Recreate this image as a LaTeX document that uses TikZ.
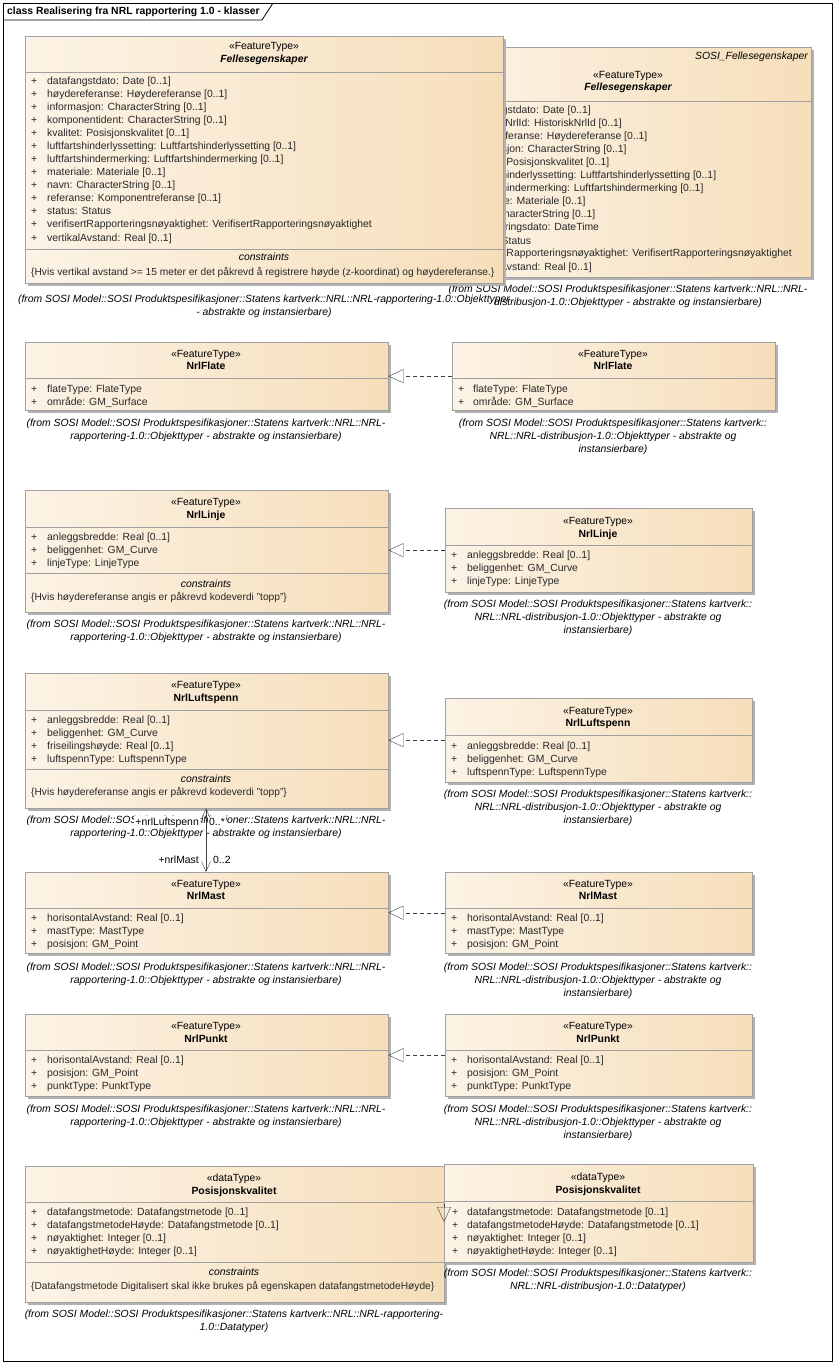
\documentclass[tikz,border=0pt]{standalone}
\usepackage{fontspec}
\setmainfont{Liberation Sans}
\usetikzlibrary{arrows.meta,shadows}
\definecolor{boxlight}{RGB}{252,243,230}
\definecolor{boxdark}{RGB}{246,222,186}
\definecolor{boxline}{RGB}{160,160,160}
\definecolor{shadowgray}{RGB}{178,178,178}
\definecolor{linecol}{RGB}{64,64,64}
\definecolor{attrcol}{RGB}{40,40,40}
\newcommand\umlfont{\fontsize{10.4}{13}\selectfont}
\tikzset{
  cbox/.style={draw=boxline, left color=boxlight, right color=boxdark, anchor=north west, inner sep=0,
    general shadow={fill=shadowgray, shadow xshift=3pt, shadow yshift=-3pt}},
  sepl/.style={draw=boxline},
  stereo/.style={font=\umlfont, inner sep=0, text height=8pt, text depth=2pt},
  cname/.style={font=\umlfont\bfseries, inner sep=0, text height=8pt, text depth=2pt},
  attr/.style={font=\umlfont, anchor=west, inner sep=0, text=attrcol, text height=8pt, text depth=2pt},
  constr/.style={attr, font=\fontsize{10.2}{13}\selectfont},
  pkg/.style={font=\umlfont\itshape, inner sep=0, align=center},
  role/.style={stereo, fill=white, inner sep=1pt},
  title/.style={font=\umlfont\bfseries, anchor=west, inner sep=0},
  realize/.style={draw=linecol, dash pattern=on 4pt off 3pt, -{Triangle[open, length=15pt, width=14pt]}},
  assoc/.style={draw=linecol, {Straight Barb[length=10pt, width=9pt]}-{Straight Barb[length=10pt, width=9pt]}},
}
\begin{document}
\begin{tikzpicture}[x=1pt,y=-1pt]
\useasboundingbox (0,0) rectangle (836,1364);
% frame
\draw[line width=0.8pt] (3,3) rectangle (832,1361);
\draw[line width=0.8pt] (3,20) -- (262,20) -- (273,3);
\node[title] (frametitle) at (7,11.5) {class Realisering fra NRL rapportering 1.0 - klasser};

% Fellesegenskaper, distribusjon (behind)
\node[cbox, minimum width=366pt, minimum height=230pt] (fellesR) at (445,47) {};
\draw[sepl] (445,101) -- (811,101);
\node[pkg, anchor=east] (fellesRpkg) at (808,57) {SOSI\_Fellesegenskaper};
\node[stereo] (fellesRst) at (628,76) {«FeatureType»};
\node[cname, font=\umlfont\bfseries\itshape] (fellesRnm) at (628,88) {Fellesegenskaper};
\foreach \a [count=\i from 0] in {datafangstdato: Date [0..1], historiskNrlId: HistoriskNrlId [0..1],
    høydereferanse: Høydereferanse [0..1], informasjon: CharacterString [0..1],
    kvalitet: Posisjonskvalitet [0..1], luftfartshinderlyssetting: Luftfartshinderlyssetting [0..1],
    luftfartshindermerking: Luftfartshindermerking [0..1], materiale: Materiale [0..1],
    navn: CharacterString [0..1], oppdateringsdato: DateTime, status: Status,
    verifisertRapporteringsnøyaktighet: VerifisertRapporteringsnøyaktighet, vertikalAvstand: Real [0..1]}{
  \node[attr] (fellesRp\i) at (451,111+13*\i) {+};
  \node[attr] (fellesRa\i) at (467,111+13*\i) {\a};
}
\node[pkg] (fellesRfrom) at (628,296) {(from SOSI Model::SOSI Produktspesifikasjoner::Statens kartverk::NRL::NRL-\\distribusjon-1.0::Objekttyper - abstrakte og instansierbare)};

% Fellesegenskaper, rapportering
\node[cbox, minimum width=478pt, minimum height=247pt] (fellesL) at (25,36) {};
\draw[sepl] (25,72) -- (503,72);
\draw[sepl] (25,249) -- (503,249);
\node[stereo] (fellesLst) at (264,47) {«FeatureType»};
\node[cname, font=\umlfont\bfseries\itshape] (fellesLnm) at (264,60) {Fellesegenskaper};
\foreach \a [count=\i from 0] in {datafangstdato: Date [0..1], høydereferanse: Høydereferanse [0..1],
    informasjon: CharacterString [0..1], komponentident: CharacterString [0..1],
    kvalitet: Posisjonskvalitet [0..1], luftfartshinderlyssetting: Luftfartshinderlyssetting [0..1],
    luftfartshindermerking: Luftfartshindermerking [0..1], materiale: Materiale [0..1],
    navn: CharacterString [0..1], referanse: Komponentreferanse [0..1], status: Status,
    verifisertRapporteringsnøyaktighet: VerifisertRapporteringsnøyaktighet, vertikalAvstand: Real [0..1]}{
  \node[attr] (fellesLp\i) at (31,82+13*\i) {+};
  \node[attr] (fellesLa\i) at (47,82+13*\i) {\a};
}
\node[stereo, font=\umlfont\itshape] (fellesLcon) at (264,258) {constraints};
\node[constr] (fellesLct) at (31,272) {\{Hvis vertikal avstand >= 15 meter er det påkrevd å registrere høyde (z-koordinat) og høydereferanse.\}};
\node[pkg] (fellesLfrom) at (264,306.5) {(from SOSI Model::SOSI Produktspesifikasjoner::Statens kartverk::NRL::NRL-rapportering-1.0::Objekttyper\\- abstrakte og instansierbare)};

% NrlFlate
\node[cbox, minimum width=363pt, minimum height=68pt] (flateL) at (25,342) {};
\draw[sepl] (25,378) -- (388,378);
\node[stereo] (flateLst) at (206,354) {«FeatureType»};
\node[cname] (flateLnm) at (206,366) {NrlFlate};
\foreach \a [count=\i from 0] in {flateType: FlateType, område: GM\_Surface}{
  \node[attr] (flateLp\i) at (31,389+13*\i) {+};
  \node[attr] (flateLa\i) at (47,389+13*\i) {\a};
}
\node[pkg] (flateLfrom) at (206,430.5) {(from SOSI Model::SOSI Produktspesifikasjoner::Statens kartverk::NRL::NRL-\\rapportering-1.0::Objekttyper - abstrakte og instansierbare)};

\node[cbox, minimum width=323pt, minimum height=68pt] (flateR) at (452,342) {};
\draw[sepl] (452,378) -- (775,378);
\node[stereo] (flateRst) at (613,354) {«FeatureType»};
\node[cname] (flateRnm) at (613,366) {NrlFlate};
\foreach \a [count=\i from 0] in {flateType: FlateType, område: GM\_Surface}{
  \node[attr] (flateRp\i) at (458,389+13*\i) {+};
  \node[attr] (flateRa\i) at (473,389+13*\i) {\a};
}
\node[pkg] (flateRfrom) at (613,437) {(from SOSI Model::SOSI Produktspesifikasjoner::Statens kartverk::\\NRL::NRL-distribusjon-1.0::Objekttyper - abstrakte og\\instansierbare)};
\draw[realize] (flateR.west) -- (flateR.west -| flateL.east);

% NrlLinje
\node[cbox, minimum width=363pt, minimum height=122pt] (linjeL) at (25,490) {};
\draw[sepl] (25,527) -- (388,527);
\draw[sepl] (25,573) -- (388,573);
\node[stereo] (linjeLst) at (206,502) {«FeatureType»};
\node[cname] (linjeLnm) at (206,515) {NrlLinje};
\foreach \a [count=\i from 0] in {anleggsbredde: Real [0..1], beliggenhet: GM\_Curve, linjeType: LinjeType}{
  \node[attr] (linjeLp\i) at (31,537+13*\i) {+};
  \node[attr] (linjeLa\i) at (47,537+13*\i) {\a};
}
\node[stereo, font=\umlfont\itshape] (linjeLcon) at (206,584) {constraints};
\node[constr] (linjeLct) at (31,597) {\{Hvis høydereferanse angis er påkrevd kodeverdi "topp"\}};
\node[pkg] (linjeLfrom) at (206,631) {(from SOSI Model::SOSI Produktspesifikasjoner::Statens kartverk::NRL::NRL-\\rapportering-1.0::Objekttyper - abstrakte og instansierbare)};

\node[cbox, minimum width=307pt, minimum height=84pt] (linjeR) at (445,508) {};
\draw[sepl] (445,545) -- (752,545);
\node[stereo] (linjeRst) at (598,521) {«FeatureType»};
\node[cname] (linjeRnm) at (598,534) {NrlLinje};
\foreach \a [count=\i from 0] in {anleggsbredde: Real [0..1], beliggenhet: GM\_Curve, linjeType: LinjeType}{
  \node[attr] (linjeRp\i) at (451,555+13*\i) {+};
  \node[attr] (linjeRa\i) at (467,555+13*\i) {\a};
}
\node[pkg] (linjeRfrom) at (598,618) {(from SOSI Model::SOSI Produktspesifikasjoner::Statens kartverk::\\NRL::NRL-distribusjon-1.0::Objekttyper - abstrakte og\\instansierbare)};
\draw[realize] (linjeR.west) -- (linjeR.west -| linjeL.east);

% NrlLuftspenn
\node[cbox, minimum width=363pt, minimum height=135pt] (luftL) at (25,673) {};
\draw[sepl] (25,710) -- (388,710);
\draw[sepl] (25,769) -- (388,769);
\node[stereo] (luftLst) at (206,685) {«FeatureType»};
\node[cname] (luftLnm) at (206,698) {NrlLuftspenn};
\foreach \a [count=\i from 0] in {anleggsbredde: Real [0..1], beliggenhet: GM\_Curve,
    friseilingshøyde: Real [0..1], luftspennType: LuftspennType}{
  \node[attr] (luftLp\i) at (31,720+13*\i) {+};
  \node[attr] (luftLa\i) at (47,720+13*\i) {\a};
}
\node[stereo, font=\umlfont\itshape] (luftLcon) at (206,779) {constraints};
\node[constr] (luftLct) at (31,792) {\{Hvis høydereferanse angis er påkrevd kodeverdi "topp"\}};
\node[pkg] (luftLfrom) at (206,827.5) {(from SOSI Model::SOSI Produktspesifikasjoner::Statens kartverk::NRL::NRL-\\rapportering-1.0::Objekttyper - abstrakte og instansierbare)};

\node[cbox, minimum width=307pt, minimum height=84pt] (luftR) at (445,698) {};
\draw[sepl] (445,735) -- (752,735);
\node[stereo] (luftRst) at (598,711) {«FeatureType»};
\node[cname] (luftRnm) at (598,723) {NrlLuftspenn};
\foreach \a [count=\i from 0] in {anleggsbredde: Real [0..1], beliggenhet: GM\_Curve, luftspennType: LuftspennType}{
  \node[attr] (luftRp\i) at (451,746+13*\i) {+};
  \node[attr] (luftRa\i) at (467,746+13*\i) {\a};
}
\node[pkg] (luftRfrom) at (598,808) {(from SOSI Model::SOSI Produktspesifikasjoner::Statens kartverk::\\NRL::NRL-distribusjon-1.0::Objekttyper - abstrakte og\\instansierbare)};
\draw[realize] (luftR.west) -- (luftR.west -| luftL.east);

% NrlMast
\node[cbox, minimum width=363pt, minimum height=81pt] (mastL) at (25,872) {};
\draw[sepl] (25,908) -- (388,908);
\node[stereo] (mastLst) at (206,884) {«FeatureType»};
\node[cname] (mastLnm) at (206,896) {NrlMast};
\foreach \a [count=\i from 0] in {horisontalAvstand: Real [0..1], mastType: MastType, posisjon: GM\_Point}{
  \node[attr] (mastLp\i) at (31,918+13*\i) {+};
  \node[attr] (mastLa\i) at (47,918+13*\i) {\a};
}
\node[pkg] (mastLfrom) at (206,974.5) {(from SOSI Model::SOSI Produktspesifikasjoner::Statens kartverk::NRL::NRL-\\rapportering-1.0::Objekttyper - abstrakte og instansierbare)};

\node[cbox, minimum width=307pt, minimum height=81pt] (mastR) at (445,872) {};
\draw[sepl] (445,908) -- (752,908);
\node[stereo] (mastRst) at (598,884) {«FeatureType»};
\node[cname] (mastRnm) at (598,896) {NrlMast};
\foreach \a [count=\i from 0] in {horisontalAvstand: Real [0..1], mastType: MastType, posisjon: GM\_Point}{
  \node[attr] (mastRp\i) at (451,918+13*\i) {+};
  \node[attr] (mastRa\i) at (467,918+13*\i) {\a};
}
\node[pkg] (mastRfrom) at (598,981) {(from SOSI Model::SOSI Produktspesifikasjoner::Statens kartverk::\\NRL::NRL-distribusjon-1.0::Objekttyper - abstrakte og\\instansierbare)};
\draw[realize] (mastR.west) -- (mastR.west -| mastL.east);

% association luftspenn - mast
\coordinate (assocx) at (206,0);
\node[role, anchor=east] (luftRole) at (200,822) {+nrlLuftspenn};
\node[role, anchor=west] (luftMult) at (208,822) {0..*};
\node[role, anchor=east] (mastRole) at (200,860) {+nrlMast};
\node[role, anchor=west] (mastMult) at (212,860) {0..2};
\draw[assoc] (luftL.south -| assocx) -- (mastL.north -| assocx);

% NrlPunkt
\node[cbox, minimum width=363pt, minimum height=82pt] (punktL) at (25,1014) {};
\draw[sepl] (25,1050) -- (388,1050);
\node[stereo] (punktLst) at (206,1026) {«FeatureType»};
\node[cname] (punktLnm) at (206,1039) {NrlPunkt};
\foreach \a [count=\i from 0] in {horisontalAvstand: Real [0..1], posisjon: GM\_Point, punktType: PunktType}{
  \node[attr] (punktLp\i) at (31,1060+13*\i) {+};
  \node[attr] (punktLa\i) at (47,1060+13*\i) {\a};
}
\node[pkg] (punktLfrom) at (206,1116.5) {(from SOSI Model::SOSI Produktspesifikasjoner::Statens kartverk::NRL::NRL-\\rapportering-1.0::Objekttyper - abstrakte og instansierbare)};

\node[cbox, minimum width=307pt, minimum height=82pt] (punktR) at (445,1014) {};
\draw[sepl] (445,1050) -- (752,1050);
\node[stereo] (punktRst) at (598,1026) {«FeatureType»};
\node[cname] (punktRnm) at (598,1039) {NrlPunkt};
\foreach \a [count=\i from 0] in {horisontalAvstand: Real [0..1], posisjon: GM\_Point, punktType: PunktType}{
  \node[attr] (punktRp\i) at (451,1060+13*\i) {+};
  \node[attr] (punktRa\i) at (467,1060+13*\i) {\a};
}
\node[pkg] (punktRfrom) at (598,1123) {(from SOSI Model::SOSI Produktspesifikasjoner::Statens kartverk::\\NRL::NRL-distribusjon-1.0::Objekttyper - abstrakte og\\instansierbare)};
\draw[realize] (punktR.west) -- (punktR.west -| punktL.east);

% Posisjonskvalitet
\node[cbox, minimum width=419pt, minimum height=136pt] (posL) at (25,1166) {};
\draw[sepl] (25,1202) -- (444,1202);
\draw[sepl] (25,1262) -- (444,1262);
\node[stereo] (posLst) at (234,1178) {«dataType»};
\node[cname] (posLnm) at (234,1191) {Posisjonskvalitet};
\foreach \a [count=\i from 0] in {datafangstmetode: Datafangstmetode [0..1], datafangstmetodeHøyde: Datafangstmetode [0..1],
    nøyaktighet: Integer [0..1], nøyaktighetHøyde: Integer [0..1]}{
  \node[attr] (posLp\i) at (31,1212+13*\i) {+};
  \node[attr] (posLa\i) at (47,1212+13*\i) {\a};
}
\node[stereo, font=\umlfont\itshape] (posLcon) at (234,1272) {constraints};
\node[constr] (posLct) at (31,1286) {\{Datafangstmetode Digitalisert skal ikke brukes på egenskapen datafangstmetodeHøyde\}};
\node[pkg] (posLfrom) at (234,1321) {(from SOSI Model::SOSI Produktspesifikasjoner::Statens kartverk::NRL::NRL-rapportering-\\1.0::Datatyper)};

\node[cbox, minimum width=309pt, minimum height=98pt] (posR) at (444,1164) {};
\draw[sepl] (444,1201) -- (753,1201);
\node[stereo] (posRst) at (598,1177) {«dataType»};
\node[cname] (posRnm) at (598,1190) {Posisjonskvalitet};
\foreach \a [count=\i from 0] in {datafangstmetode: Datafangstmetode [0..1], datafangstmetodeHøyde: Datafangstmetode [0..1],
    nøyaktighet: Integer [0..1], nøyaktighetHøyde: Integer [0..1]}{
  \node[attr] (posRp\i) at (452,1212+13*\i) {+};
  \node[attr] (posRa\i) at (467,1212+13*\i) {\a};
}
\node[pkg] (posRfrom) at (598,1280) {(from SOSI Model::SOSI Produktspesifikasjoner::Statens kartverk::\\NRL::NRL-distribusjon-1.0::Datatyper)};
\draw[realize] ([yshift=-40pt]posR.north west) -- ([yshift=-58pt]posR.north west);
\end{tikzpicture}
\end{document}
